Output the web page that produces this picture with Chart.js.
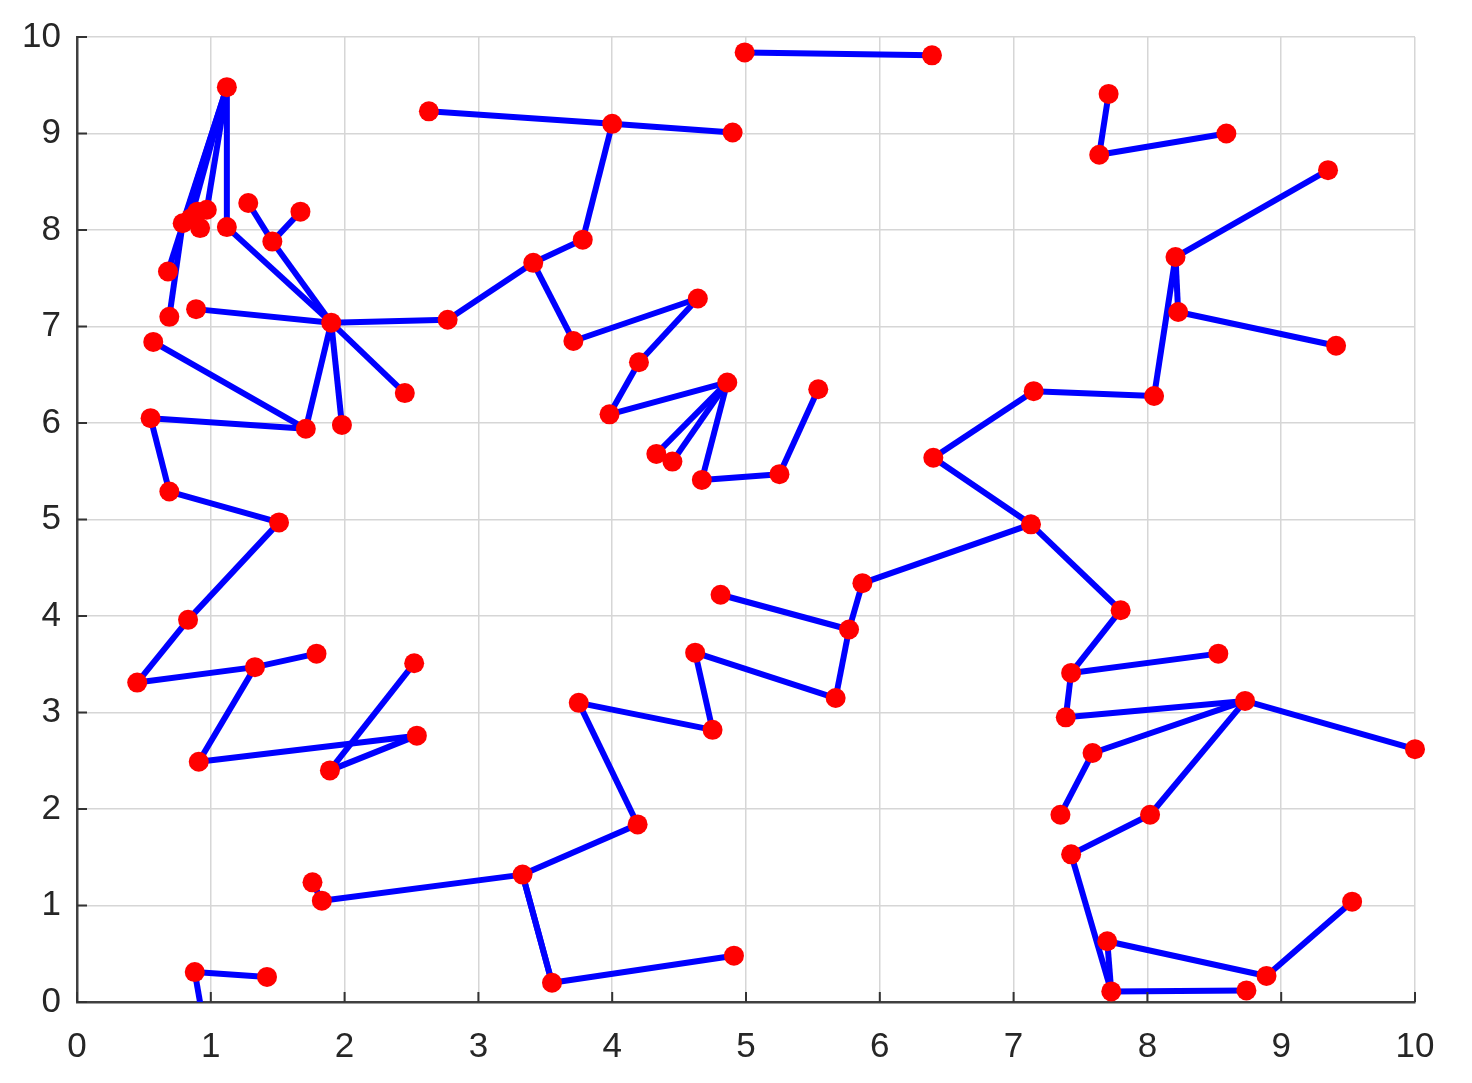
<!DOCTYPE html>
<html>
<head>
<meta charset="utf-8">
<script src="https://cdn.jsdelivr.net/npm/chart.js@4.4.1/dist/chart.umd.min.js"></script>
<style>
html,body{margin:0;padding:0;background:#fff;}
#wrap{width:1472px;height:1083px;}
</style>
</head>
<body>
<div id="wrap"><canvas id="c" width="1472" height="1083"></canvas></div>
<script>
// Node coordinates
const nodeX = [1.12,0.79,0.90,0.97,0.92,0.85,1.12,1.28,1.67,1.46,
               0.68,0.69,0.89,1.90,2.77,2.45,0.57,1.71,1.98,0.55,
               0.69,1.51,0.83,0.45,1.33,1.79,0.91,2.54,1.89,2.52,
               1.76,1.83,0.88,1.42,0.97,
               2.63,4.00,4.90,3.78,3.41,3.71,4.64,4.20,3.98,4.86,
               4.33,4.45,4.67,5.25,5.54,4.99,6.39,4.81,5.77,5.87,
               5.67,4.62,4.75,3.75,4.19,3.33,3.55,4.91,
               7.71,7.64,8.59,9.35,8.21,8.23,9.41,8.05,7.15,6.40,
               7.13,7.80,7.43,8.53,7.39,8.73,10.0,7.59,7.35,8.02,
               7.43,7.73,7.70,8.89,9.53,8.74];
const nodeY = [9.48,8.07,8.19,8.21,8.02,8.12,8.03,8.28,8.19,7.88,
               7.57,7.10,7.18,7.04,7.07,6.31,6.84,5.94,5.98,6.05,
               5.29,4.97,3.96,3.31,3.47,3.61,2.49,2.76,2.40,3.51,
               1.24,1.05,0.31,0.26,-0.40,
               9.23,9.10,9.01,7.90,7.66,6.85,7.29,6.63,6.09,6.42,
               5.68,5.60,5.41,5.47,6.35,9.84,9.81,4.22,3.86,4.34,
               3.15,3.62,2.82,3.10,1.84,1.32,0.20,0.48,
               9.41,8.78,9.00,8.62,7.72,7.15,6.80,6.28,6.33,5.64,
               4.95,4.06,3.41,3.61,2.95,3.12,2.62,2.58,1.94,1.94,
               1.53,0.11,0.63,0.27,1.04,0.12];
// Edges as pairs of node indices
const edgeFrom = [0,0,0,0,0,1,6,9,9,9,12,13,13,13,13,16,19,19,20,21,22,23,24,24,26,27,28,30,31,32,32,
                  14,35,36,36,38,39,40,41,42,43,44,44,44,47,48,50,
                  52,53,53,55,56,57,58,59,60,60,61,54,
                  63,64,66,67,67,68,70,71,72,73,74,75,75,77,78,78,80,78,82,83,85,85,86,84];
const edgeTo   = [1,3,5,10,6,11,13,13,7,8,13,14,15,17,18,17,17,20,21,22,23,24,25,26,27,28,29,31,60,33,34,
                  39,36,37,38,39,40,41,42,43,44,45,46,47,48,49,51,
                  53,54,55,56,57,58,59,60,61,61,62,73,
                  64,65,67,70,68,69,71,72,73,74,75,76,77,78,79,80,81,82,83,84,84,86,87,88];
const tickValues = [0,1,2,3,4,5,6,7,8,9,10];

const datasets = [];
datasets.push({
  label: 'nodes',
  data: nodeX.map((x,i)=>({x:x,y:nodeY[i]})),
  showLine: false,
  pointRadius: 10,
  pointBackgroundColor: '#ff0000',
  pointBorderColor: '#ff0000',
  pointBorderWidth: 0,
  clip: {left:false, right:false, top:false, bottom:0},
  order: 0
});
for (let k = 0; k < edgeFrom.length; k++) {
  const a = edgeFrom[k], b = edgeTo[k];
  datasets.push({
    label: 'e'+k,
    data: [{x:nodeX[a],y:nodeY[a]},{x:nodeX[b],y:nodeY[b]}],
    showLine: true,
    borderColor: '#0000ff',
    borderWidth: 6,
    pointRadius: 0,
    order: 1
  });
}

const innerTicks = {
  id: 'innerTicks',
  afterDraw(chart) {
    const ctx = chart.ctx, xs = chart.scales.x, ys = chart.scales.y, a = chart.chartArea;
    ctx.save();
    ctx.strokeStyle = '#333';
    ctx.lineWidth = 2;
    ctx.beginPath();
    tickValues.forEach(v => {
      const px = xs.getPixelForValue(v);
      ctx.moveTo(px, a.bottom); ctx.lineTo(px, a.bottom - 10);
      const py = ys.getPixelForValue(v);
      ctx.moveTo(a.left, py); ctx.lineTo(a.left + 10, py);
    });
    ctx.stroke();
    ctx.restore();
  }
};

new Chart(document.getElementById('c'), {
  type: 'scatter',
  data: { datasets },
  options: {
    responsive: false,
    animation: false,
    events: [],
    layout: { padding: { top: 35, right: 57, left: 0, bottom: 0 } },
    plugins: { legend: { display: false }, tooltip: { enabled: false } },
    scales: {
      x: {
        type: 'linear', min: 0, max: 10,
        afterFit(s) { s.height = 81; },
        afterBuildTicks(s) { s.ticks = tickValues.map(v => ({value: v})); },
        ticks: { font: { family: 'Liberation Sans', size: 35 }, color: '#262626', padding: 24, maxRotation: 0 },
        grid: { color: '#d6d6d6', lineWidth: 1.5, drawTicks: false },
        border: { display: true, color: '#404040', width: 2.5 }
      },
      y: {
        type: 'linear', min: 0, max: 10,
        afterFit(s) { s.width = 77; },
        afterBuildTicks(s) { s.ticks = tickValues.map(v => ({value: v})); },
        ticks: { font: { family: 'Liberation Sans', size: 35 }, color: '#262626', padding: 16 },
        grid: { color: '#d6d6d6', lineWidth: 1.5, drawTicks: false },
        border: { display: true, color: '#404040', width: 2.5 }
      }
    }
  },
  plugins: [innerTicks]
});
</script>
</body>
</html>
